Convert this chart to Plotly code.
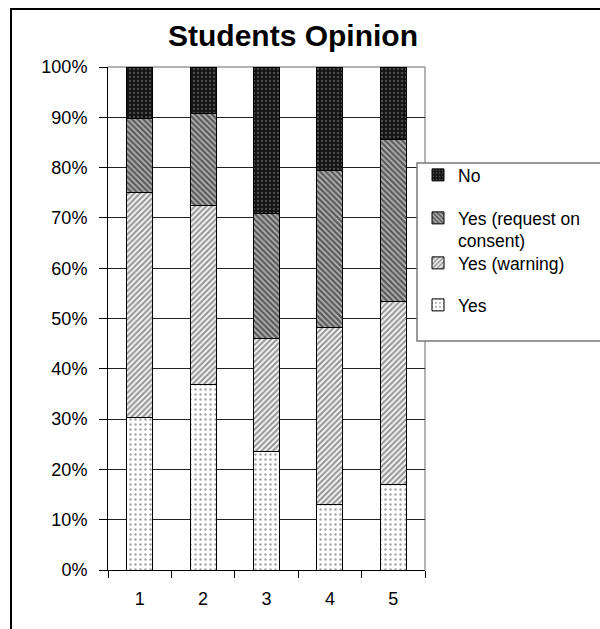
import plotly.graph_objects as go

# Survey groups along the x axis
groups = ["1", "2", "3", "4", "5"]

# Share of answers per group (percent)
yes_plain = [30.4, 36.9, 23.6, 13.1, 16.9]
yes_warning = [44.6, 35.6, 22.5, 35.1, 36.4]
yes_request = [14.7, 18.2, 24.8, 31.2, 32.3]
no_answer = [10.3, 9.3, 29.1, 20.6, 14.4]

y_ticks = list(range(0, 101, 10))
y_tick_text = [f"{v}%" for v in y_ticks]

W, H = 600, 629
ML, MR, MT, MB = 108, 175, 67, 59
PW, PH = W - ML - MR, H - MT - MB


def px_x(x):
    return (x - ML) / PW


def px_y(y):
    return (H - MB - y) / PH


FONT = "Liberation Sans, Arial, sans-serif"
edge = dict(color="black", width=1)

series = [
    ("Yes", yes_plain, dict(shape=".", fgcolor="#444", bgcolor="white", size=5, solidity=0.18), "legend4"),
    ("Yes (warning)", yes_warning, dict(shape="/", fgcolor="#333", bgcolor="#f4f4f4", size=4, solidity=0.5), "legend3"),
    ("Yes (request on<br>consent)", yes_request, dict(shape="\\", fgcolor="#000", bgcolor="#b4b4b4", size=4, solidity=0.55), "legend2"),
    ("No", no_answer, dict(shape=".", fgcolor="#8a8a8a", bgcolor="#141414", size=4, solidity=0.25), "legend"),
]

fig = go.Figure()
for name, vals, pat, leg in series:
    fig.add_trace(go.Bar(
        x=groups, y=vals, name=name, legend=leg,
        marker=dict(color=pat["bgcolor"], pattern=pat, line=edge),
    ))

legend_text_x = px_x(418)


def legend_at(py, valign="middle"):
    return dict(
        x=legend_text_x, y=px_y(py), xanchor="left", yanchor="middle",
        bgcolor="rgba(0,0,0,0)", borderwidth=0, valign=valign,
        font=dict(family=FONT, size=17.5, color="black"),
    )


fig.update_layout(
    width=W, height=H,
    margin=dict(l=ML, r=MR, t=MT, b=MB),
    paper_bgcolor="white", plot_bgcolor="white",
    barmode="stack", bargap=0.59,
    showlegend=True,
    legend=legend_at(175),
    legend2=legend_at(229.5, "top"),
    legend3=legend_at(263),
    legend4=legend_at(305),
    title=dict(
        text="<b>Students Opinion</b>", x=293 / W, xref="container", xanchor="center",
        y=1 - 35 / H, yanchor="middle",
        font=dict(family=FONT, size=30, color="black"),
    ),
    xaxis=dict(
        type="category", showline=True, linecolor="black", linewidth=1,
        ticks="outside", tickson="boundaries", ticklen=7, tickcolor="black",
        ticklabelstandoff=12, showgrid=False,
        tickfont=dict(family=FONT, size=18, color="black"),
    ),
    yaxis=dict(
        range=[0, 100], tickvals=y_ticks, ticktext=y_tick_text,
        showline=True, linecolor="black", linewidth=1,
        ticks="outside", ticklen=8, tickcolor="black", ticklabelstandoff=8,
        showgrid=True, gridcolor="#222", gridwidth=1, zeroline=False,
        tickfont=dict(family=FONT, size=18, color="black"),
    ),
    shapes=[
        # grey plot-area frame (top and right)
        dict(type="line", xref="paper", yref="paper", x0=0, x1=1, y0=1, y1=1,
             line=dict(color="#9a9a9a", width=1.5), layer="below"),
        dict(type="line", xref="paper", yref="paper", x0=1, x1=1, y0=0, y1=1,
             line=dict(color="#9a9a9a", width=1.5), layer="below"),
        # legend box
        dict(type="rect", xref="paper", yref="paper",
             x0=px_x(417), x1=px_x(612), y0=px_y(341), y1=px_y(163),
             line=dict(color="#7a7a7a", width=1.5), fillcolor="white", layer="above"),
        # outer chart border
        dict(type="rect", xref="paper", yref="paper",
             x0=px_x(11), x1=px_x(612), y0=px_y(640), y1=px_y(9),
             line=dict(color="black", width=2), fillcolor="rgba(0,0,0,0)", layer="above"),
    ],
)

fig.write_html("out.html")
